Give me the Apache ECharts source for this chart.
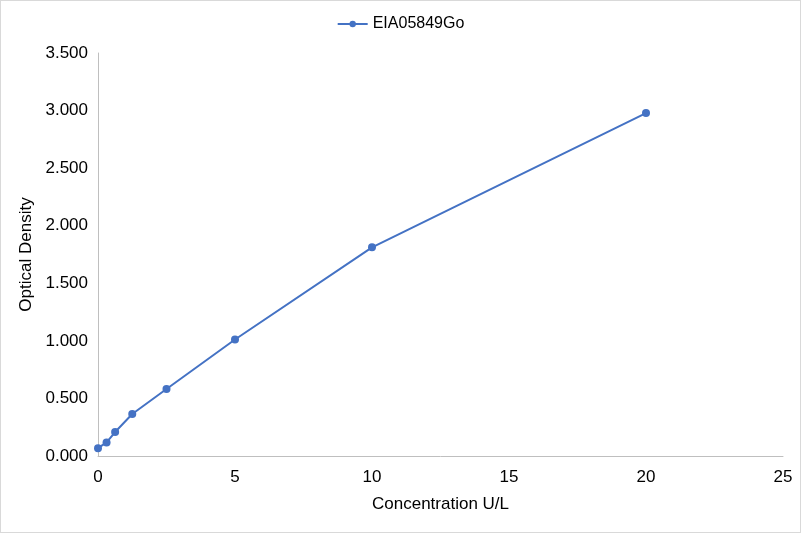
<!DOCTYPE html>
<html><head><meta charset="utf-8">
<script src="https://cdn.jsdelivr.net/npm/echarts@6/dist/echarts.min.js"></script>
<style>html,body{margin:0;padding:0;background:#fff}#c{width:801px;height:533px;box-sizing:border-box;border:1px solid #d9d9d9}</style>
</head><body><div id="c"></div>
<script>
var seriesName = 'EIA05849Go';
var concentrations = [0, 0.3125, 0.625, 1.25, 2.5, 5, 10, 20];
var densities = [0.068, 0.118, 0.208, 0.365, 0.582, 1.012, 1.812, 2.978];
var xAxisName = 'Concentration U/L';
var yAxisName = 'Optical Density';

var chart = echarts.init(document.getElementById('c'), null, {renderer: 'canvas'});
var font = 'Liberation Sans, Arial, sans-serif';
chart.setOption({
  animation: false,
  textStyle: {fontFamily: font},
  legend: {
    top: 10, left: 'center',
    itemWidth: 30, itemHeight: 8,
    textStyle: {fontFamily: font, fontSize: 16, color: '#000'},
    data: [seriesName]
  },
  grid: {left: 97, right: 17, top: 52, bottom: 76, containLabel: false},
  xAxis: {
    type: 'value', min: 0, max: 25, interval: 5,
    name: xAxisName, nameLocation: 'middle', nameGap: 40,
    nameTextStyle: {fontFamily: font, fontSize: 17, color: '#000'},
    axisLine: {show: true, lineStyle: {color: '#bfbfbf', width: 1}},
    axisTick: {show: false},
    splitLine: {show: false},
    axisLabel: {fontFamily: font, fontSize: 17, color: '#000', margin: 13}
  },
  yAxis: {
    type: 'value', min: 0, max: 3.5, interval: 0.5,
    name: yAxisName, nameLocation: 'middle', nameGap: 60,
    nameTextStyle: {fontFamily: font, fontSize: 17, color: '#000'},
    axisLine: {show: true, lineStyle: {color: '#bfbfbf', width: 1}},
    axisTick: {show: false},
    splitLine: {show: false},
    axisLabel: {fontFamily: font, fontSize: 17, color: '#000', margin: 10,
      formatter: function (v) { return v.toFixed(3); }}
  },
  series: [{
    name: seriesName, type: 'line',
    data: concentrations.map(function (x, i) { return [x, densities[i]]; }),
    symbol: 'circle', symbolSize: 8,
    itemStyle: {color: '#4472c4'},
    lineStyle: {color: '#4472c4', width: 2}
  }]
});
</script></body></html>
